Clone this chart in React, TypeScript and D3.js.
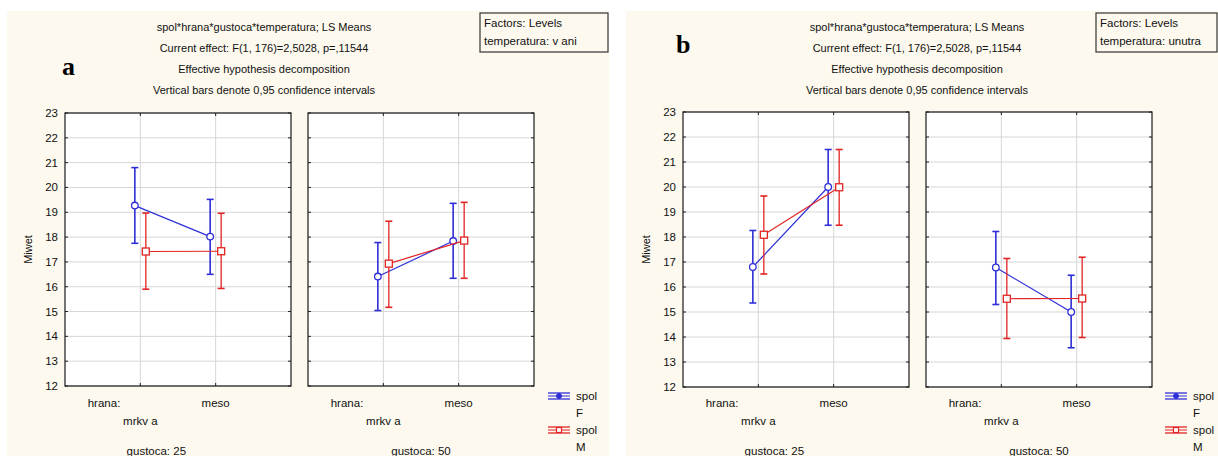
import React from "react";
import * as d3 from "d3";

// ---------- DATA ----------
const hranaLevels = ["mrkv a", "meso"];
const gustocaLevels = ["25", "50"];
const spolLevels = ["F", "M"];
const yTicks = [12, 13, 14, 15, 16, 17, 18, 19, 20, 21, 22, 23];

// order of each array: [g25 mrkva, g25 meso, g50 mrkva, g50 meso]
// panel a: temperatura = vani
const aF_mean = [19.27, 18.02, 16.41, 17.84];
const aF_low = [17.75, 16.5, 15.04, 16.34];
const aF_high = [20.8, 19.52, 17.78, 19.36];
const aM_mean = [17.42, 17.43, 16.93, 17.86];
const aM_low = [15.9, 15.93, 15.17, 16.34];
const aM_high = [18.97, 18.96, 18.64, 19.4];
// panel b: temperatura = unutra
const bF_mean = [16.8, 20.0, 16.78, 15.0];
const bF_low = [15.36, 18.47, 15.3, 13.57];
const bF_high = [18.26, 21.5, 18.22, 16.47];
const bM_mean = [18.09, 19.99, 15.53, 15.54];
const bM_low = [16.52, 18.47, 13.94, 13.98];
const bM_high = [19.64, 21.5, 17.14, 17.19];

const titleLines = [
  "spol*hrana*gustoca*temperatura; LS Means",
  "Current effect: F(1, 176)=2,5028, p=,11544",
  "Effective hypothesis decomposition",
  "Vertical bars denote 0,95 confidence intervals",
];

// ---------- STYLE ----------
const BLUE = "#2f2fd8";
const RED = "#e22424";
const CREAM = "#fdf9ee";
const FONT = "'Liberation Sans', Arial, sans-serif";

type PanelCfg = {
  letter: string;
  temp: string;
  bgX: number;
  bgW: number;
  plots: [number, number][];
  top: number;
  bottom: number;
  titleX: number;
  letterX: number;
  letterY: number;
  boxX: number;
  boxW: number;
  legendX: number;
  F: { mean: number[]; low: number[]; high: number[] };
  M: { mean: number[]; low: number[]; high: number[] };
};

const panels: PanelCfg[] = [
  {
    letter: "a",
    temp: "temperatura: v ani",
    bgX: 7,
    bgW: 602,
    plots: [
      [65, 291],
      [308, 534],
    ],
    top: 113,
    bottom: 386,
    titleX: 264,
    letterX: 62,
    letterY: 75,
    boxX: 480,
    boxW: 128,
    legendX: 548,
    F: { mean: aF_mean, low: aF_low, high: aF_high },
    M: { mean: aM_mean, low: aM_low, high: aM_high },
  },
  {
    letter: "b",
    temp: "temperatura: unutra",
    bgX: 626,
    bgW: 592,
    plots: [
      [683, 909],
      [926, 1152],
    ],
    top: 112,
    bottom: 387,
    titleX: 917,
    letterX: 676,
    letterY: 53,
    boxX: 1096,
    boxW: 121,
    legendX: 1165,
    F: { mean: bF_mean, low: bF_low, high: bF_high },
    M: { mean: bM_mean, low: bM_low, high: bM_high },
  },
];

function Panel({ p }: { p: PanelCfg }) {
  const y = d3.scaleLinear().domain([12, 23]).range([p.bottom, p.top]);
  const els: React.ReactNode[] = [];

  p.plots.forEach(([l, r], gi) => {
    const x = d3.scalePoint<string>().domain(hranaLevels).range([l, r]).padding(1);
    const key = `g${gi}`;
    // plot background
    els.push(<rect key={key + "bg"} x={l} y={p.top} width={r - l} height={p.bottom - p.top} fill="#fff" />);
    // grid
    yTicks.forEach((t) =>
      els.push(
        <line key={key + "gy" + t} x1={l} x2={r} y1={y(t)} y2={y(t)} stroke="#d6d6d6" strokeWidth={1} />
      )
    );
    hranaLevels.forEach((h) =>
      els.push(
        <line key={key + "gx" + h} x1={x(h)} x2={x(h)} y1={p.top} y2={p.bottom} stroke="#d6d6d6" strokeWidth={1} />
      )
    );
    // ticks
    yTicks.forEach((t) => {
      els.push(<line key={key + "tl" + t} x1={l} x2={l + 3} y1={y(t)} y2={y(t)} stroke="#222" />);
      els.push(<line key={key + "tr" + t} x1={r - 3} x2={r} y1={y(t)} y2={y(t)} stroke="#222" />);
    });
    hranaLevels.forEach((h) => {
      els.push(<line key={key + "tt" + h} x1={x(h)} x2={x(h)} y1={p.top} y2={p.top + 3} stroke="#222" />);
      els.push(<line key={key + "tb" + h} x1={x(h)} x2={x(h)} y1={p.bottom - 3} y2={p.bottom} stroke="#222" />);
    });
    // border
    els.push(
      <rect key={key + "border"} x={l} y={p.top} width={r - l} height={p.bottom - p.top} fill="none" stroke="#1a1a1a" strokeWidth={1.2} />
    );

    // series
    spolLevels.forEach((s, si) => {
      const d = s === "F" ? p.F : p.M;
      const color = s === "F" ? BLUE : RED;
      const off = s === "F" ? -5.5 : 5.5;
      const pts = hranaLevels.map((h, hi) => ({
        cx: (x(h) as number) + off,
        m: d.mean[gi * 2 + hi],
        lo: d.low[gi * 2 + hi],
        hi: d.high[gi * 2 + hi],
      }));
      const line = d3
        .line<{ cx: number; m: number }>()
        .x((q) => q.cx)
        .y((q) => y(q.m));
      els.push(<path key={key + s + "line"} d={line(pts) || ""} fill="none" stroke={color} strokeWidth={1.2} />);
      pts.forEach((q, qi) => {
        const k = key + s + qi;
        els.push(<line key={k + "v"} x1={q.cx} x2={q.cx} y1={y(q.lo)} y2={y(q.hi)} stroke={color} strokeWidth={s === "F" ? 1.6 : 1.3} />);
        els.push(<line key={k + "c1"} x1={q.cx - 3.5} x2={q.cx + 3.5} y1={y(q.lo)} y2={y(q.lo)} stroke={color} strokeWidth={1.6} />);
        els.push(<line key={k + "c2"} x1={q.cx - 3.5} x2={q.cx + 3.5} y1={y(q.hi)} y2={y(q.hi)} stroke={color} strokeWidth={1.6} />);
        if (s === "F") {
          els.push(<circle key={k + "m"} cx={q.cx} cy={y(q.m)} r={3.3} fill="#fff" stroke={color} strokeWidth={1.3} />);
        } else {
          els.push(<rect key={k + "m"} x={q.cx - 3.5} y={y(q.m) - 3.5} width={7} height={7} fill="#fff" stroke={color} strokeWidth={1.3} />);
        }
      });
      void si;
    });

    // x labels
    const x1 = x(hranaLevels[0]) as number;
    const x2 = x(hranaLevels[1]) as number;
    els.push(
      <text key={key + "hr"} x={x1 - 20} y={407} textAnchor="end" fontSize={11.5} fontFamily={FONT} fill="#111">
        hrana:
      </text>
    );
    els.push(
      <text key={key + "ms"} x={x2} y={407} textAnchor="middle" fontSize={11.5} fontFamily={FONT} fill="#111">
        {hranaLevels[1]}
      </text>
    );
    els.push(
      <text key={key + "mk"} x={x1} y={425} textAnchor="middle" fontSize={11.5} fontFamily={FONT} fill="#111">
        {hranaLevels[0]}
      </text>
    );
    els.push(
      <text key={key + "gu"} x={gi === 0 ? x1 + 16 : (l + r) / 2} y={455} textAnchor="middle" fontSize={11.5} fontFamily={FONT} fill="#111">
        {"gustoca: " + gustocaLevels[gi]}
      </text>
    );
  });

  // y tick labels
  const l0 = p.plots[0][0];
  yTicks.forEach((t) =>
    els.push(
      <text key={"yl" + t} x={l0 - 7} y={y(t) + 4} textAnchor="end" fontSize={11.5} fontFamily={FONT} fill="#111">
        {t}
      </text>
    )
  );
  els.push(
    <text
      key="ylab"
      transform={`translate(${l0 - 33},${(p.top + p.bottom) / 2}) rotate(-90)`}
      textAnchor="middle"
      fontSize={11}
      fontFamily={FONT}
      fill="#111"
    >
      Miwet
    </text>
  );

  // legend
  spolLevels.forEach((s, si) => {
    const color = s === "F" ? BLUE : RED;
    const cy = 396 + si * 34;
    const lx = p.legendX;
    els.push(<line key={"lg" + s + "a"} x1={lx} x2={lx + 22} y1={cy - 3} y2={cy - 3} stroke={color} strokeWidth={1.3} />);
    els.push(<line key={"lg" + s + "b"} x1={lx} x2={lx + 22} y1={cy + 3} y2={cy + 3} stroke={color} strokeWidth={1.3} />);
    els.push(<line key={"lg" + s + "c"} x1={lx + 11} x2={lx + 11} y1={cy - 3} y2={cy + 3} stroke={color} strokeWidth={1.3} />);
    els.push(<line key={"lg" + s + "d"} x1={lx} x2={lx + 22} y1={cy} y2={cy} stroke={color} strokeWidth={1} />);
    if (s === "F") {
      els.push(<circle key={"lg" + s + "m"} cx={lx + 11} cy={cy} r={2.5} fill={color} stroke={color} />);
    } else {
      els.push(<rect key={"lg" + s + "m"} x={lx + 8.5} y={cy - 2.5} width={5} height={5} fill="#fff" stroke={color} strokeWidth={1.2} />);
    }
    els.push(
      <text key={"lgt" + s} x={lx + 28} y={cy + 4} fontSize={11.5} fontFamily={FONT} fill="#111">
        spol
      </text>
    );
    els.push(
      <text key={"lgv" + s} x={lx + 28} y={cy + 21} fontSize={11.5} fontFamily={FONT} fill="#111">
        {s}
      </text>
    );
  });

  return (
    <g>
      <rect x={p.bgX} y={11} width={p.bgW} height={456 - 11} fill={CREAM} />
      {titleLines.map((t, i) => (
        <text key={"t" + i} x={p.titleX} y={31 + i * 21} textAnchor="middle" fontSize={11} fontFamily={FONT} fill="#111">
          {t}
        </text>
      ))}
      <text x={p.letterX} y={p.letterY} fontSize={26} fontWeight="bold" fontFamily="'Liberation Serif', 'Times New Roman', serif" fill="#000">
        {p.letter}
      </text>
      <rect x={p.boxX} y={13} width={p.boxW} height={39} fill={CREAM} stroke="#333" strokeWidth={1.2} />
      <text x={p.boxX + 4} y={27} fontSize={11.5} fontFamily={FONT} fill="#111">
        Factors: Levels
      </text>
      <text x={p.boxX + 4} y={45} fontSize={11.5} fontFamily={FONT} fill="#111">
        {p.temp}
      </text>
      {els}
    </g>
  );
}

export default function App() {
  return (
    <svg width={1218} height={456} style={{ position: "absolute", left: 0, top: 0, background: "#fff" }}>
      {panels.map((p) => (
        <Panel key={p.letter} p={p} />
      ))}
    </svg>
  );
}
